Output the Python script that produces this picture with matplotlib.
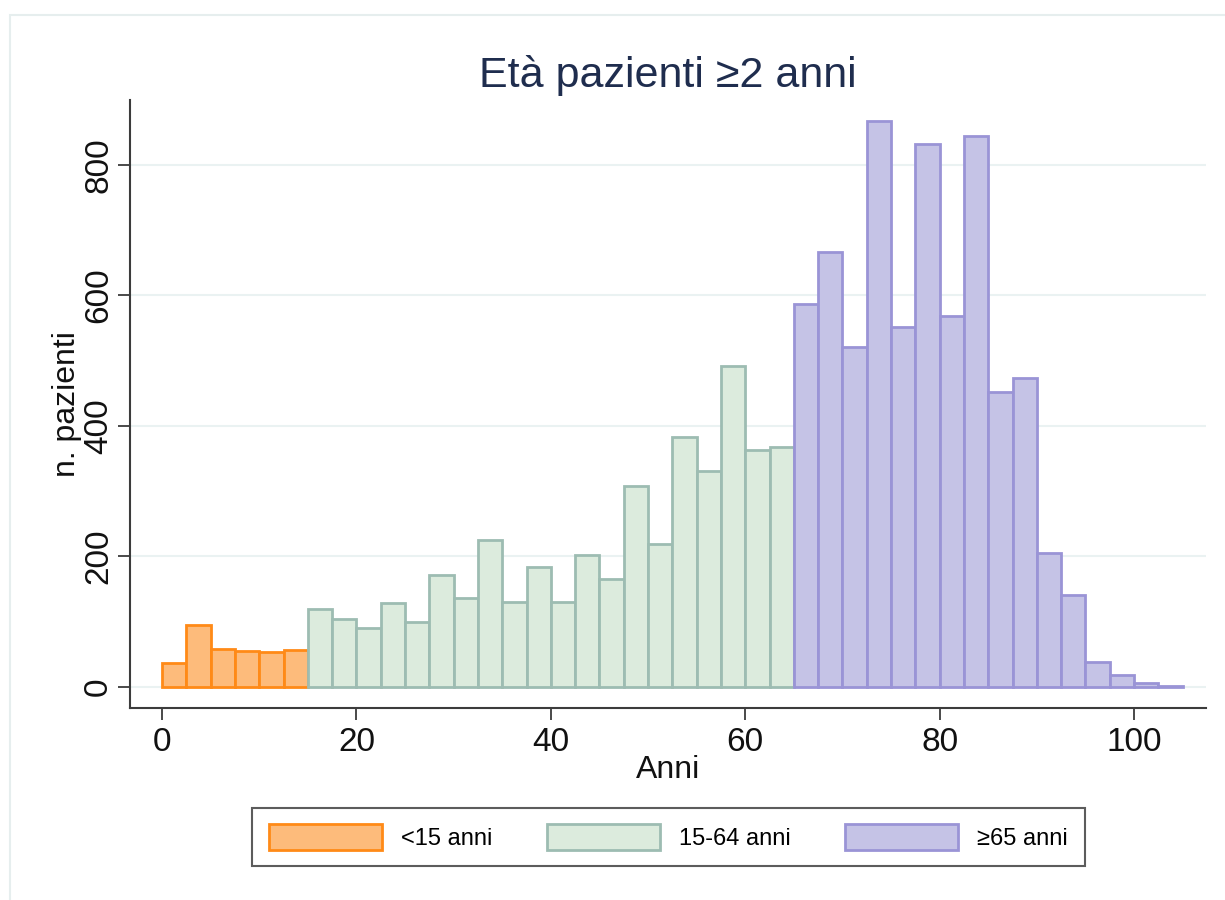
#!/usr/bin/env python3
"""
Istogramma età pazienti (>=2 anni), classi di 2.5 anni, per fascia d'età
"""

import numpy as np
import matplotlib.pyplot as plt
from matplotlib.patches import Patch, Rectangle

plt.rcParams['font.family'] = ['Liberation Sans', 'DejaVu Sans']

# dati: conteggi per classe di 2.5 anni
bin_width = 2.5
start_under15 = 0.0
start_15_64 = 15.0
start_over65 = 65.0

counts_under15 = [37, 95, 58, 55, 53, 57]
counts_15_64 = [120, 104, 90, 128, 100, 172, 136, 225, 131, 184,
                131, 202, 165, 308, 219, 383, 331, 492, 363, 368]
counts_over65 = [587, 667, 521, 868, 552, 832, 569, 845, 452, 474,
                 206, 141, 39, 18, 6, 2]

labels = ['<15 anni', '15-64 anni', '≥65 anni']
fills = ['#fdbb7b', '#dcebdd', '#c5c3e6']
edges = ['#ff8a17', '#9dbcb2', '#9a94d6']

title = 'Età pazienti ≥2 anni'
xlabel = 'Anni'
ylabel = 'n. pazienti'
xticks = [0, 20, 40, 60, 80, 100]
yticks = [0, 200, 400, 600, 800]

W, H = 1225, 900
fig = plt.figure(figsize=(W / 100, H / 100), dpi=100)
ax = fig.add_axes([130 / W, 1 - 708 / H, (1206 - 130) / W, (708 - 100) / H])

# cornice esterna leggera
fig.patches.append(Rectangle((10 / W, -0.2), 1.2, 1.2 - 15 / H,
                             transform=fig.transFigure, fill=False,
                             edgecolor='#e6eeee', linewidth=1.5, zorder=0))

groups = [(start_under15, counts_under15), (start_15_64, counts_15_64),
          (start_over65, counts_over65)]
for (start, counts), fc, ec in zip(groups, fills, edges):
    lefts = start + bin_width * np.arange(len(counts))
    ax.bar(lefts, counts, width=bin_width, align='edge', color=fc,
           edgecolor=ec, linewidth=2.0, zorder=3)

ax.set_xlim(-3.3, 107.4)
ax.set_ylim(-32.2, 899.6)
ax.set_xticks(xticks)
ax.set_yticks(yticks)

ax.grid(axis='y', color='#eaf2f2', linewidth=1.5, zorder=0)
ax.set_axisbelow(True)

for side in ['top', 'right']:
    ax.spines[side].set_visible(False)
for side in ['left', 'bottom']:
    ax.spines[side].set_color('#3c3c3c')
    ax.spines[side].set_linewidth(1.5)

ax.tick_params(axis='both', length=8.5, width=1.3, color='#3c3c3c',
               labelsize=24, labelcolor='#111111')
ax.tick_params(axis='x', pad=5)
ax.tick_params(axis='y', pad=3, labelrotation=90)
for lab in ax.get_yticklabels():
    lab.set_va('center')

ax.set_title(title, fontsize=31, color='#1f2d4e', pad=9)
ax.set_xlabel(xlabel, fontsize=23, color='#111111')
ax.set_ylabel(ylabel, fontsize=23, color='#111111')
ax.xaxis.set_label_coords(0.5, -0.078)
ax.yaxis.set_label_coords(-0.045, 0.5)

handles = [Patch(facecolor=fc, edgecolor=ec, linewidth=2.0)
           for fc, ec in zip(fills, edges)]
leg = fig.legend(handles, labels, loc='center', ncol=3,
                 bbox_to_anchor=(668.5 / W, 1 - 837 / H),
                 fontsize=17, handlelength=4.8, handleheight=1.3,
                 handletextpad=0.8, columnspacing=2.3, borderpad=0.7,
                 fancybox=False, frameon=True)
leg.get_frame().set_edgecolor('#333333')
leg.get_frame().set_linewidth(1.5)

plt.savefig('out.png', dpi=100)
plt.close()
